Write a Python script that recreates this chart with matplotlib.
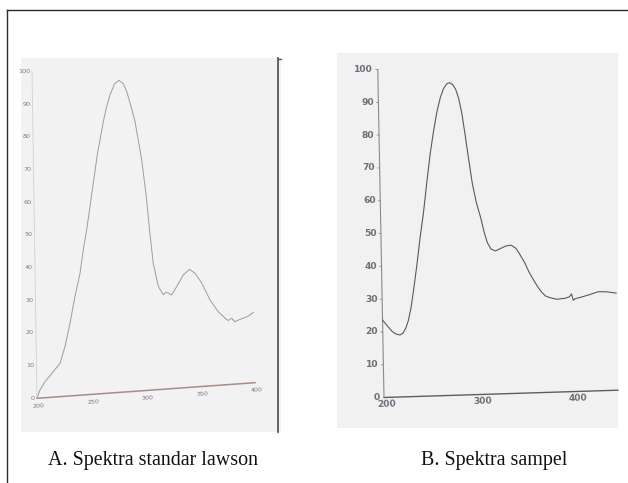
import numpy as np
import matplotlib
matplotlib.use("Agg")
import matplotlib.pyplot as plt
from matplotlib.patches import Rectangle
from matplotlib.transforms import Affine2D

# ---- data ----
lawson_nm = [200, 202.9, 207.6, 215.3, 221.6, 226.4, 231.3, 236.2, 241.2, 244.5, 247.9,
             252.9, 258.7, 264.7, 268.0, 271.2, 275.5, 279.6, 283.5, 286.5, 290.0, 293.7,
             299.3, 302.8, 305.9, 308.4, 312.8, 317.2, 319.5, 321.8, 324.9, 329.6, 335.8,
             341.4, 346.5, 352.6, 359.9, 367.3, 373.4, 376.4, 379.5, 382.5, 385.6, 390.2,
             394.8, 399.4]
lawson_abs = [0, 2.5, 4.9, 7.8, 10.2, 15.2, 22.2, 30.3, 37.3, 44.4, 50.4,
              61, 73.2, 83.2, 87.8, 91.2, 94.5, 95.4, 94.3, 91.9, 87.5, 82.5,
              70.6, 59.8, 47.5, 38.8, 31.5, 28.9, 29.6, 29.3, 28.7, 31.1, 34.5,
              36.1, 34.8, 31.6, 26.3, 22.5, 20.4, 19.6, 20.2, 19.1, 19.5, 20,
              20.5, 21.5]

sampel_nm = [200, 203, 206, 210, 214, 218, 221, 224, 227, 230, 233, 237, 241, 245, 249,
             253, 257, 261, 265, 268.5, 272, 275, 278, 281, 284, 287, 290, 293, 296.6,
             300.5, 304.8, 308, 311.2, 315, 319.5, 325, 330.4, 336, 341, 345, 350.3, 354,
             358.6, 363, 367.1, 371, 375, 382.6, 391.3, 396, 398.3, 400, 402, 407, 417.4,
             426.2, 435, 445]
sampel_abs = [23.6, 22.5, 21.4, 20.0, 19.2, 18.9, 19.4, 20.8, 23.2, 27, 32.3, 40, 48.5, 56, 65,
              73.5, 80.5, 86.5, 91, 93.6, 95.0, 95.3, 94.7, 93.3, 90.5, 86, 79.5, 72.5, 64.5,
              58.5, 53.8, 49.5, 46.2, 44.2, 43.6, 44.3, 45.0, 45.2, 44.2, 42.3, 39.5, 37,
              34.5, 32.3, 30.6, 29.4, 28.9, 28.3, 28.5, 28.9, 29.8, 27.8, 28.3, 28.6, 29.4,
              30.2, 30.1, 29.6]

left_xticks = [200, 250, 300, 350, 400]
right_xticks = [200, 300, 400]
yticks = [0, 10, 20, 30, 40, 50, 60, 70, 80, 90, 100]
caption_a = "A. Spektra standar lawson"
caption_b = "B. Spektra sampel"

W, H = 628, 483
fig = plt.figure(figsize=(W / 100, H / 100), dpi=100)
fig.patch.set_facecolor("white")

page = fig.add_axes([0, 0, 1, 1])
page.set_xlim(0, W)
page.set_ylim(H, 0)
page.axis("off")

# outer frame
page.plot([7, 7], [10, H], color="#2a2a2a", lw=1.0)
page.plot([7, W], [10, 10], color="#2a2a2a", lw=1.0)
# scanned backgrounds
page.add_patch(Rectangle((21, 58), 260, 374, fc="#f2f2f2", ec="none"))
page.add_patch(Rectangle((337, 53), 281, 375, fc="#f1f1f1", ec="none"))
page.plot([277.5, 277.5], [58, 432], color="#5a5a5a", lw=1.3)
page.plot([277.5, 281], [58.5, 58.5], color="#5a5a5a", lw=1.0)

page.text(153.5, 461, caption_a, ha="center", va="center", fontsize=14.4,
          family=["Liberation Serif", "DejaVu Serif"], color="#111111")
page.text(494.5, 461, caption_b, ha="center", va="center", fontsize=14.4,
          family=["Liberation Serif", "DejaVu Serif"], color="#111111")


def make_axes(origin, sx, sy, xlim, ylim, a, b):
    x0, y0 = origin
    w = sx * (xlim[1] - xlim[0])
    h = sy * (ylim[1] - ylim[0])
    ax = fig.add_axes([x0 / W, (H - y0) / H, w / W, h / H])
    ax.set_xlim(xlim)
    ax.set_ylim(ylim)
    ax.axis("off")
    ax.patch.set_alpha(0)
    m = np.array([[1.0, a, 0.0], [b, 1.0, -xlim[0] * b], [0, 0, 1]])
    tr = Affine2D(m) + ax.transData
    return ax, tr


def lab(ax, tr, x, y, s, dx, dy, **kw):
    ax.annotate(s, (x, y), xycoords=tr, xytext=(dx, dy), textcoords="offset pixels",
                annotation_clip=False, **kw)


# ---- left panel ----
axL, trL = make_axes((37, 398.3), 1.09, 3.267, (200, 400), (0, 100), -0.0459, 0.0239)
axL.plot([200, 400], [0, 0], transform=trL, color="#a48e86", lw=1.1, clip_on=False)
axL.plot([200, 200], [0, 100], transform=trL, color="#d0d0d8", lw=0.6, clip_on=False)
axL.plot(lawson_nm, lawson_abs, transform=trL, color="#9c9c9c", lw=0.7, clip_on=False)
narrow = ["Liberation Sans Narrow", "DejaVu Sans"]
for v in left_xticks:
    lab(axL, trL, v, 0, str(v), 1.5, -7.5, ha="center", va="center", fontsize=4.6,
        family=narrow, color="#7c7c90", rotation=4)
for v in yticks:
    lab(axL, trL, 200, v, str(v), -2, 0, ha="right", va="center", fontsize=4.6,
        family=narrow, color="#7c7c90")

# ---- right panel ----
axR, trR = make_axes((384, 397.5), 0.955, 3.28, (200, 445), (0, 100), -0.065, 0.00909)
axR.plot([200, 445], [0, 0], transform=trR, color="#5e5e5e", lw=1.0, clip_on=False)
axR.plot([200, 200], [0, 100], transform=trR, color="#8a8a8a", lw=0.8, clip_on=False)
tx, ty = [], []
for v in yticks[1:]:
    tx += [198, 200, np.nan]
    ty += [v, v, np.nan]
axR.plot(tx, ty, transform=trR, color="#8a8a8a", lw=0.6, clip_on=False)
axR.plot(sampel_nm, sampel_abs, transform=trR, color="#5a5a5a", lw=0.8, clip_on=False)
for v in right_xticks:
    lab(axR, trR, v, 0, str(v), 3, -6.5, ha="center", va="center", fontsize=6.6,
        color="#6e6e7a", rotation=1.7, fontweight="bold")
for v in yticks:
    lab(axR, trR, 200, v, str(v), -4.5, 0, ha="right", va="center", fontsize=6.6,
        color="#6e6e7a", fontweight="bold")

fig.savefig("out.png", dpi=100, facecolor="white")
